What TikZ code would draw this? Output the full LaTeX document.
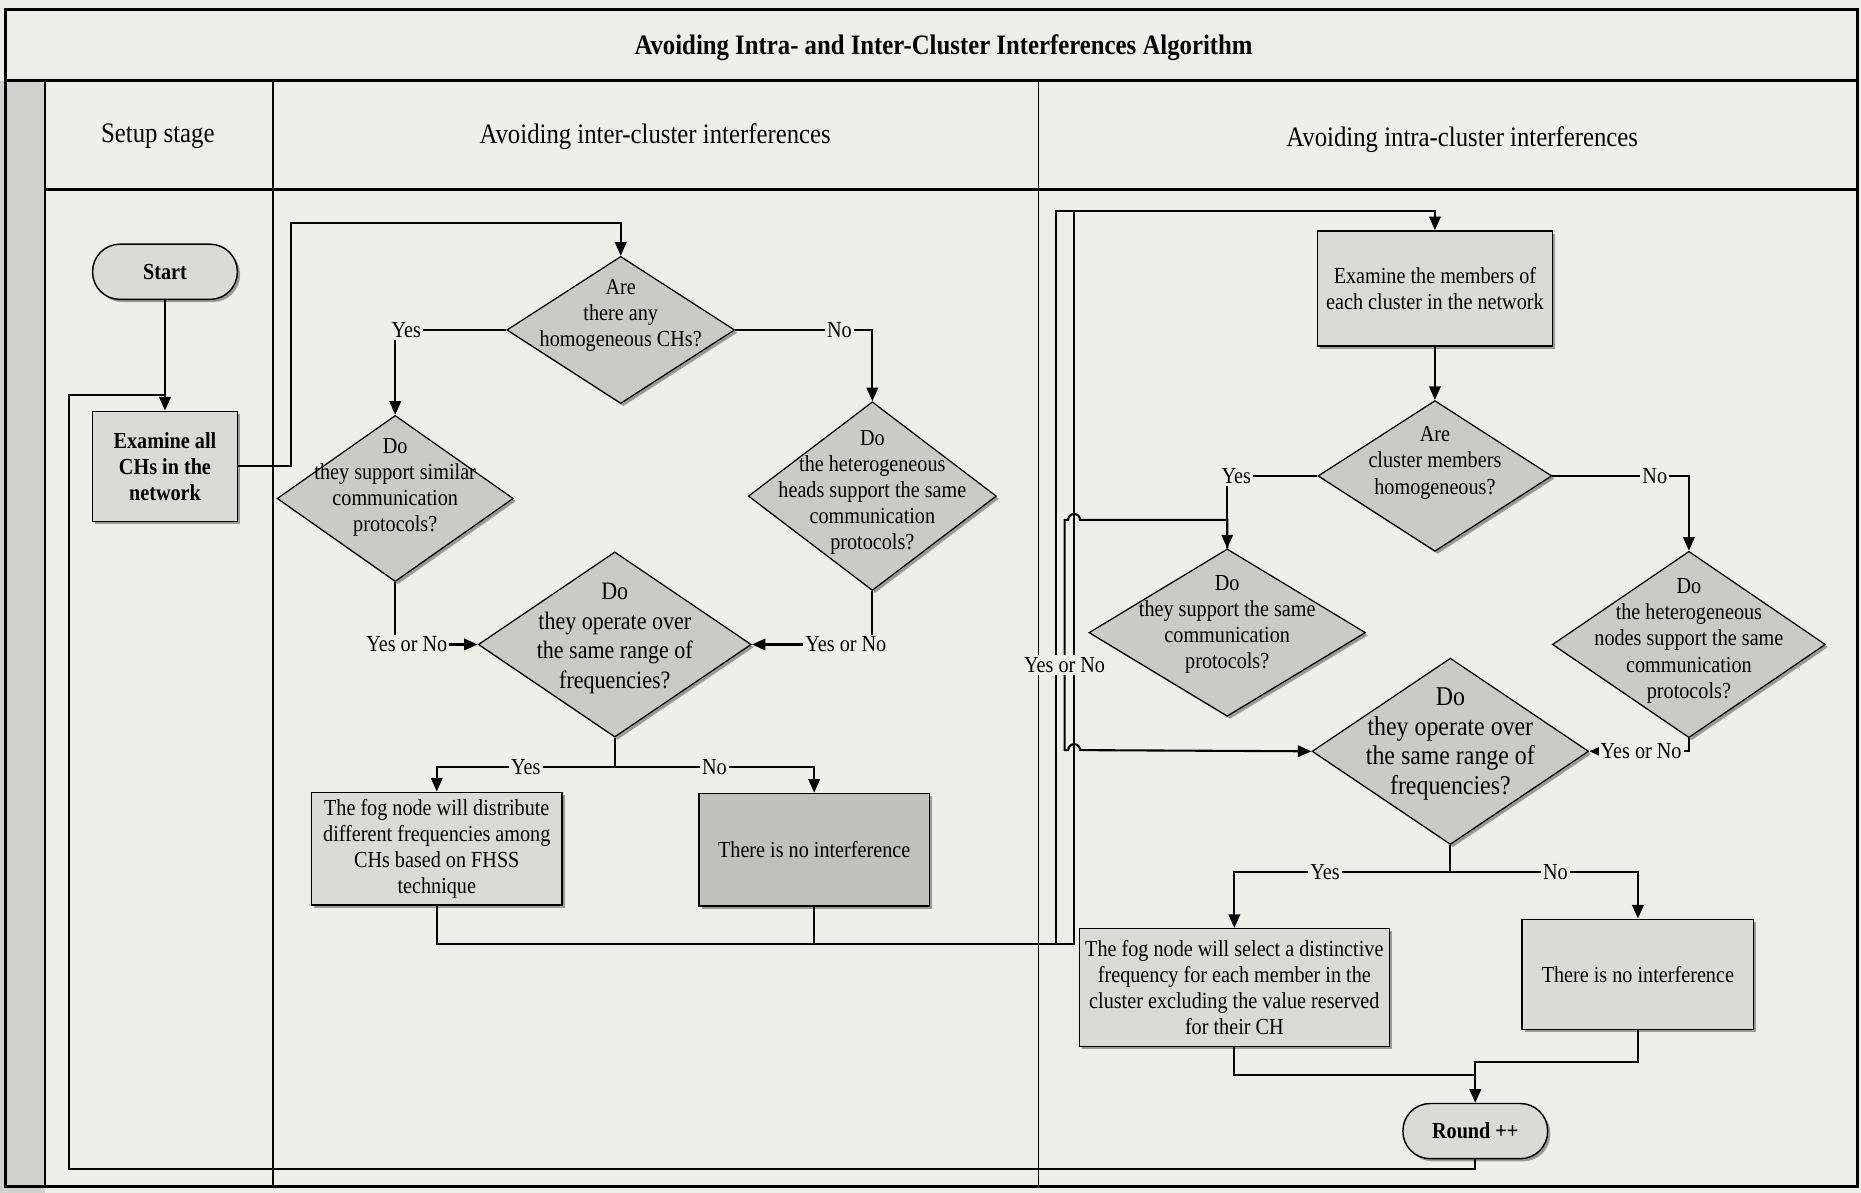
\documentclass[tikz,border=0pt]{standalone}
\usepackage{fontspec}
\setmainfont{Liberation Serif}[FakeStretch=0.88]
\usetikzlibrary{shapes.geometric, arrows.meta, shadows}
\definecolor{paper}{RGB}{238,238,235}
\definecolor{stripgray}{RGB}{208,208,205}
\definecolor{boxgray}{RGB}{218,218,215}
\definecolor{decgray}{RGB}{202,202,199}
\definecolor{nonegray}{RGB}{192,192,189}
\newcommand\flowtxt{\fontsize{11}{12.5}\selectfont}
\newcommand\lanetxt{\fontsize{13.5}{16}\selectfont}
\newcommand\px{0.02cm}
\tikzset{
  boxshadow/.style={drop shadow={shadow xshift=1.3pt, shadow yshift=-1.3pt,
    fill=black, opacity=0.35}},
  term/.style={rectangle, rounded corners=0.46cm, draw, line width=0.7pt, fill=boxgray,
    font=\flowtxt\bfseries, minimum width=2.44cm, minimum height=0.93cm, boxshadow},
  procbox/.style={rectangle, draw, line width=0.7pt, fill=boxgray, font=\flowtxt,
    align=center, inner sep=2pt, boxshadow},
  dec/.style={diamond, draw, line width=0.6pt, fill=decgray, inner sep=0pt, boxshadow},
  dtxt/.style={font=\flowtxt, align=center, inner sep=0pt},
  lanehead/.style={font=\lanetxt},
  lbl/.style={font=\flowtxt, fill=paper, inner sep=1pt},
  conn/.style={line width=1pt},
  arr/.style={conn, -{Triangle[length=6.5pt, width=5.5pt]}},
  frame/.style={line width=1.4pt},
  lane/.style={line width=0.8pt},
}
\begin{document}
\begin{tikzpicture}[x=\px, y=-\px]
  \useasboundingbox (0,0) rectangle (1568,1005);
  \fill[paper] (0,0) rectangle (1568,1005);
  \fill[stripgray] (0,68) rectangle (38,1005);

  % pool, title band and swim lanes
  \draw[frame] (5,8) rectangle (1565,1000);
  \draw[frame] (5,68) -- (1565,68);
  \draw[frame] (38,160) -- (1565,160);
  \draw[lane] (38,68) -- (38,1000);
  \draw[lane] (230,68) -- (230,1000);
  \draw[lane] (875,68) -- (875,1000);

  \node[font=\lanetxt\bfseries] (title) at (795,40)
        {Avoiding Intra- and Inter-Cluster Interferences Algorithm};
  \node[lanehead] (hsetup) at (133,115) {Setup stage};
  \node[lanehead] (hinter) at (552,115) {Avoiding inter-cluster interferences};
  \node[lanehead] (hintra) at (1232,118) {Avoiding intra-cluster interferences};

  % setup stage
  \node[term] (start) at (139,229) {Start};
  \node[procbox, font=\flowtxt\bfseries, minimum width=122*\px, minimum height=93*\px]
        (exall) at (139,393) {Examine all\\CHs in the\\network};

  % inter-cluster lane
  \node[dec, minimum width=192*\px, minimum height=124*\px] (d1) at (523,278) {};
  \node[dtxt, yshift=12*\px] (d1t) at (d1) {Are\\there any\\homogeneous CHs?};
  \node[dec, minimum width=199*\px, minimum height=140*\px] (d2) at (333,420) {};
  \node[dtxt, yshift=9*\px] (d2t) at (d2)
        {Do\\they support similar\\communication\\protocols?};
  \node[dec, minimum width=209*\px, minimum height=159*\px] (d3) at (735,418) {};
  \node[dtxt, yshift=3*\px] (d3t) at (d3)
        {Do\\the heterogeneous\\heads support the same\\communication\\protocols?};
  \node[dec, minimum width=230*\px, minimum height=156*\px] (d4) at (518,543) {};
  \node[dtxt, font={\fontsize{12}{14.2}\selectfont}, yshift=5*\px] (d4t) at (d4)
        {Do\\they operate over\\the same range of\\frequencies?};
  \node[procbox, minimum width=211*\px, minimum height=95*\px] (fhss) at (368,715)
        {The fog node will distribute\\different frequencies among\\CHs based on FHSS\\technique};
  \node[procbox, fill=nonegray, minimum width=194*\px, minimum height=95*\px]
        (noint) at (686,716) {There is no interference};

  % intra-cluster lane
  \node[procbox, minimum width=198*\px, minimum height=97*\px] (exmem) at (1209,243)
        {Examine the members of\\each cluster in the network};
  \node[dec, minimum width=197*\px, minimum height=127*\px] (d5) at (1209,401) {};
  \node[dtxt, yshift=11*\px] (d5t) at (d5) {Are\\cluster members\\homogeneous?};
  \node[dec, minimum width=233*\px, minimum height=141*\px] (d6) at (1034,533) {};
  \node[dtxt, yshift=7*\px] (d6t) at (d6)
        {Do\\they support the same\\communication\\protocols?};
  \node[dec, minimum width=230*\px, minimum height=157*\px] (d7) at (1423,543) {};
  \node[dtxt, yshift=3*\px] (d7t) at (d7)
        {Do\\the heterogeneous\\nodes support the same\\communication\\protocols?};
  \node[dec, minimum width=233*\px, minimum height=157*\px] (d8) at (1222,633) {};
  \node[dtxt, font={\fontsize{13}{14.2}\selectfont}, yshift=6*\px] (d8t) at (d8)
        {Do\\they operate over\\the same range of\\frequencies?};
  \node[procbox, minimum width=261*\px, minimum height=99*\px] (fsel) at (1040,832)
        {The fog node will select a distinctive\\frequency for each member in the\\cluster excluding the value reserved\\for their CH};
  \node[procbox, minimum width=195*\px, minimum height=93*\px] (noint2) at (1380,821)
        {There is no interference};
  \node[term] (round) at (1243,953) {Round ++};

  % routing points
  \coordinate (loopBot) at (58,985);
  \coordinate (loopTop) at (58,333);
  \coordinate (toD1) at (245,188);
  \coordinate (split1) at (518,646);
  \coordinate (feedL) at (890,795);
  \coordinate (feedR) at (905,795);
  \coordinate (feedLt) at (890,178);
  \coordinate (feedRt) at (905,178);
  \coordinate (split2) at (1222,735);
  \coordinate (joinA) at (1243,906);
  \coordinate (joinB) at (1243,895);

  % connectors
  \draw[arr] (start) -- (exall);
  \draw[conn] (round.south) |- (loopBot) -- (loopTop) -- (loopTop -| exall.north);
  \draw[arr] (exall.east) -| (toD1) -| (d1.north);

  \draw[arr] (d1.west) -| node[lbl, pos=0.45] {Yes} (d2.north);
  \draw[arr] (d1.east) -| node[lbl, pos=0.38] {No} (d3.north);
  \draw[arr] (d2.south) |- node[lbl, pos=0.57] {Yes or No} (d4.west);
  \draw[arr] (d3.south) |- node[lbl, pos=0.61] {Yes or No} (d4.east);
  \draw[conn] (d4.south) -- (split1);
  \draw[arr] (split1) -| node[lbl, pos=0.25] {Yes} (fhss.north);
  \draw[arr] (split1) -| node[lbl, pos=0.25] {No} (noint.north);

  \draw[arr] (fhss.south) |- (feedL) -- (feedLt) -| (exmem.north);
  \draw[conn] (noint.south) |- (feedR) -- (feedRt);

  \draw[arr] (exmem) -- (d5);
  \draw[arr] (d5.west) -| node[lbl, pos=0.45] {Yes} (d6.north);
  \draw[arr] (d5.east) -| node[lbl, pos=0.375] {No} (d7.north);
  \draw[arr] (d6.north) -- (1034,438) -- (910,438)
        arc[start angle=0, end angle=180, radius=0.1cm] -- (897,438)
        -- node[lbl, pos=0.63] {Yes or No} (897,632) -- (900,632)
        arc[start angle=180, end angle=0, radius=0.1cm] -- (d8.west);
  \draw[arr] (d7.south) |- node[lbl, pos=0.74] {Yes or No} (d8.east);
  \draw[conn] (d8.south) -- (split2);
  \draw[arr] (split2) -| node[lbl, pos=0.29] {Yes} (fsel.north);
  \draw[arr] (split2) -| node[lbl, pos=0.28] {No} (noint2.north);
  \draw[conn] (fsel.south) |- (joinA);
  \draw[arr] (noint2.south) |- (joinB) -- (round.north);
\end{tikzpicture}
\end{document}
